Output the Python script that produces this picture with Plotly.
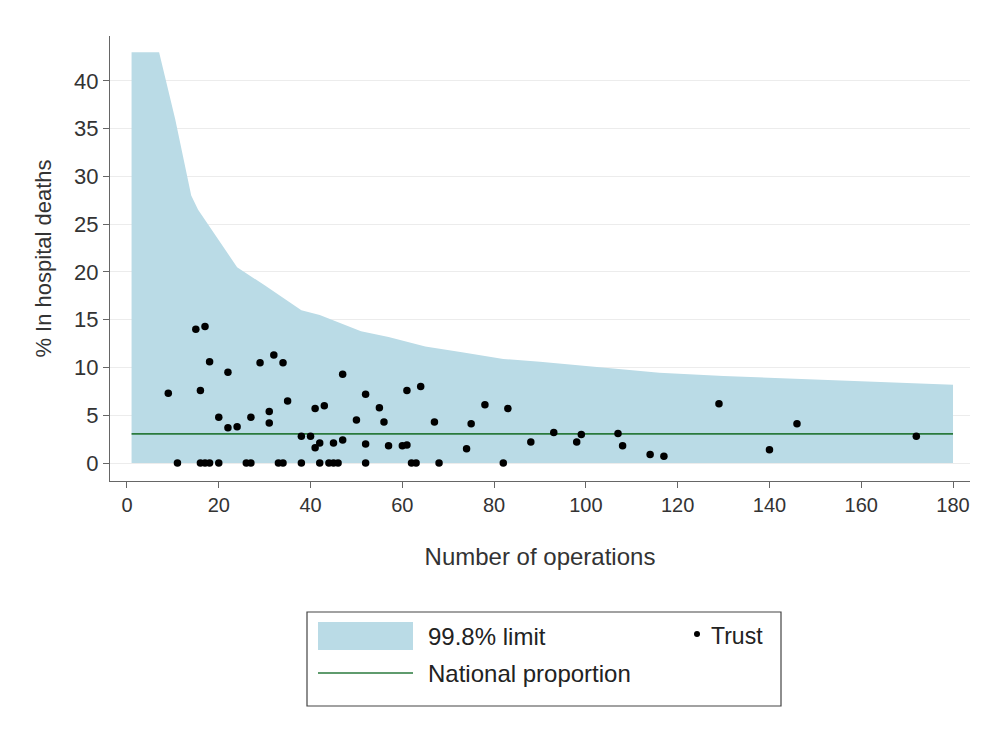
import plotly.graph_objects as go

# ---- data ----
limit_n = [1, 7, 10.5, 14, 15.5, 19, 24, 30, 38, 42, 51, 57, 65, 73, 82, 90, 104, 116, 130, 148, 165, 180]
limit_upper = [43, 43, 36, 28, 26.5, 24, 20.5, 18.6, 16, 15.5, 13.8, 13.2, 12.2, 11.6, 10.9, 10.6, 10.0, 9.45, 9.1, 8.8, 8.5, 8.2]

national_n = [1, 180]
national_pct = [3.05, 3.05]

trust_n = [9, 11, 15, 16, 16, 17, 17, 18, 18, 20, 20, 22, 22, 24, 26, 27, 27, 29, 31, 31,
           32, 33, 34, 34, 35, 38, 38, 40, 41, 41, 42, 42, 43, 44, 45, 45, 46, 47, 47, 50,
           52, 52, 52, 55, 56, 57, 60, 61, 61, 62, 63, 64, 67, 68, 74, 75, 78, 82, 83, 88,
           93, 98, 99, 107, 108, 114, 117, 129, 140, 146, 172]
trust_pct = [7.3, 0, 14.0, 7.6, 0, 14.3, 0, 10.6, 0, 4.8, 0, 9.5, 3.7, 3.8, 0, 4.8, 0, 10.5, 5.4, 4.2,
             11.3, 0, 10.5, 0, 6.5, 2.8, 0, 2.8, 5.7, 1.6, 2.1, 0, 6.0, 0, 2.1, 0, 0, 9.3, 2.4, 4.5,
             7.2, 2.0, 0, 5.8, 4.3, 1.8, 1.8, 7.6, 1.9, 0, 0, 8.0, 4.3, 0, 1.5, 4.1, 6.1, 0, 5.7, 2.2,
             3.2, 2.2, 3.0, 3.1, 1.8, 0.9, 0.7, 6.2, 1.4, 4.1, 2.8]

x_ticks = [0, 20, 40, 60, 80, 100, 120, 140, 160, 180]
y_ticks = [0, 5, 10, 15, 20, 25, 30, 35, 40]

legend_labels = ["99.8% limit", "National proportion", "Trust"]

# ---- styling ----
W, H = 982, 734
ML, MR, MT, MB = 110, 12, 36, 253
PW, PH = W - ML - MR, H - MT - MB
BAND = "#badbe6"
GREEN = "#2a7a3c"
FONT = "Liberation Sans, Arial, sans-serif"


def px(xp):
    return (xp - ML) / PW


def py(yp):
    return (H - MB - yp) / PH


fig = go.Figure()
fig.add_trace(go.Scatter(x=limit_n, y=limit_upper, mode="lines", fill="tozeroy",
                         fillcolor=BAND, line=dict(width=0, color=BAND),
                         name=legend_labels[0], showlegend=False, hoverinfo="skip"))
fig.add_trace(go.Scatter(x=national_n, y=national_pct, mode="lines",
                         line=dict(color=GREEN, width=1.6),
                         name=legend_labels[1], showlegend=False))
fig.add_trace(go.Scatter(x=trust_n, y=trust_pct, mode="markers",
                         marker=dict(color="black", size=7.5),
                         name=legend_labels[2], showlegend=False))

# ---- manual legend box (Stata style) ----
shapes = [
    dict(type="rect", xref="paper", yref="paper", x0=px(307), x1=px(781), y0=py(706), y1=py(612),
         line=dict(color="#444", width=1.2), fillcolor="white", layer="above"),
    dict(type="rect", xref="paper", yref="paper", x0=px(318), x1=px(413), y0=py(650), y1=py(622),
         line=dict(width=0), fillcolor=BAND, layer="above"),
    dict(type="line", xref="paper", yref="paper", x0=px(318), x1=px(413), y0=py(673), y1=py(673),
         line=dict(color=GREEN, width=1.6), layer="above"),
    dict(type="circle", xref="paper", yref="paper", x0=px(694), x1=px(700), y0=py(637), y1=py(631),
         line=dict(width=0), fillcolor="black", layer="above"),
]
LEG_FONT = dict(size=24, color="#222", family=FONT)
annotations = [
    dict(text=legend_labels[0], xref="paper", yref="paper", x=px(426), y=py(636), xanchor="left",
         yanchor="middle", showarrow=False, font=LEG_FONT),
    dict(text=legend_labels[1], xref="paper", yref="paper", x=px(426), y=py(673), xanchor="left",
         yanchor="middle", showarrow=False, font=LEG_FONT),
    dict(text=legend_labels[2], xref="paper", yref="paper", x=px(709), y=py(636), xanchor="left",
         yanchor="middle", showarrow=False, font=dict(size=23, color="#222", family=FONT)),
]

fig.update_layout(
    width=W, height=H,
    margin=dict(l=ML, r=MR, t=MT, b=MB),
    paper_bgcolor="white", plot_bgcolor="white",
    font=dict(family=FONT, size=20, color="#333"),
    showlegend=False,
    shapes=shapes, annotations=annotations,
)
fig.update_xaxes(range=[-3.7, 183.7], tickvals=x_ticks, ticks="outside", ticklen=6,
                 tickcolor="#666", showline=True, linecolor="#666", linewidth=1.2,
                 showgrid=False, zeroline=False, tickfont=dict(size=20),
                 title=dict(text="Number of operations", font=dict(size=24), standoff=33))
fig.update_yaxes(range=[-1.88, 44.7], tickvals=y_ticks, ticks="outside", ticklen=6,
                 tickcolor="#666", showline=True, linecolor="#666", linewidth=1.2,
                 showgrid=True, gridcolor="#ececec", gridwidth=1, zeroline=False,
                 tickfont=dict(size=22),
                 title=dict(text="% In hospital deaths", font=dict(size=22), standoff=16))

fig.write_html("out.html")
